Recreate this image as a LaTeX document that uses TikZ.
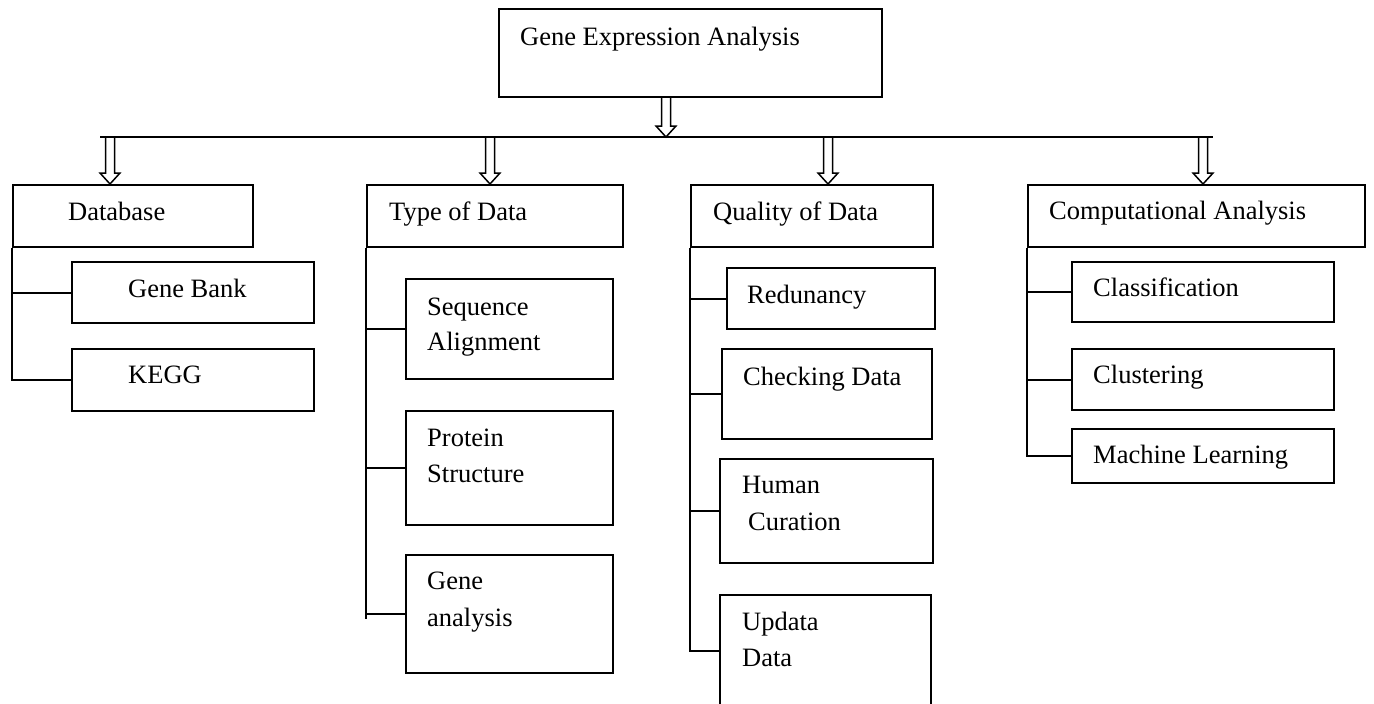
\documentclass[tikz,border=0pt]{standalone}
\usepackage{fontspec}
\setmainfont{Liberation Serif}
\usetikzlibrary{calc}
\tikzset{
  box/.style={draw, line width=2pt, rectangle, inner sep=0pt},
  txt/.style={font=\fontsize{26.5}{36}\selectfont, inner sep=0pt, anchor=base west},
  conn/.style={line width=2pt},
  harrow/.style={line width=1.5pt, line join=miter}
}
\newcommand\bx[5]{\node[box, minimum width={(#4)-(#2)}, minimum height={(#5)-(#3)}] (#1) at ({((#2)+(#4))/2},{((#3)+(#5))/2}) {};}
\newcommand\hollowarrow[2]{%
  \draw[harrow] ($(#1)+(-4.5,0)$) -- ($(#2)+(-4.5,-11)$) -- ($(#2)+(-10,-11)$) -- (#2)
    -- ($(#2)+(10,-11)$) -- ($(#2)+(4.5,-11)$) -- ($(#1)+(4.5,0)$);}
\begin{document}
\begin{tikzpicture}[x=1pt,y=-1pt]
\useasboundingbox (0,0) rectangle (1374,704);
\clip (0,0) rectangle (1374,704);
% boxes
\bx{top}{499}{9}{882}{97}
\bx{db}{13}{185}{253}{247}
\bx{gb}{72}{262}{314}{323}
\bx{kegg}{72}{349}{314}{411}
\bx{td}{367}{185}{623}{247}
\bx{sa}{406}{279}{613}{379}
\bx{ps}{406}{411}{613}{525}
\bx{ga}{406}{555}{613}{673}
\bx{qd}{691}{185}{933}{247}
\bx{red}{727}{268}{935}{329}
\bx{cd}{722}{349}{932}{439}
\bx{hc}{720}{459}{933}{563}
\bx{ud}{720}{595}{931}{707}
\bx{ca}{1028}{185}{1365}{247}
\bx{cls}{1072}{262}{1334}{322}
\bx{clu}{1072}{349}{1334}{410}
\bx{ml}{1072}{429}{1334}{483}
% texts
\node[txt] (ttop) at (520,45) {Gene Expression Analysis};
\node[txt] (tdb) at (68,220) {Database};
\node[txt] (tgb) at (128,297) {Gene Bank};
\node[txt] (tkegg) at (128,383) {KEGG};
\node[txt] (ttd) at (389,220) {Type of Data};
\node[txt] (tsa1) at (427,315) {Sequence};
\node[txt] (tsa2) at (427,350) {Alignment};
\node[txt] (tps1) at (427,446) {Protein};
\node[txt] (tps2) at (427,482) {Structure};
\node[txt] (tga1) at (427,589) {Gene};
\node[txt] (tga2) at (427,626) {analysis};
\node[txt] (tqd) at (713,220) {Quality of Data};
\node[txt] (tred) at (747,303) {Redunancy};
\node[txt] (tcd) at (743,385) {Checking Data};
\node[txt] (thc1) at (742,493) {Human};
\node[txt] (thc2) at (748,530) {Curation};
\node[txt] (tud1) at (742,630) {Updata};
\node[txt] (tud2) at (742,666) {Data};
\node[txt] (tca) at (1049,219) {Computational Analysis};
\node[txt] (tcls) at (1093,296) {Classification};
\node[txt] (tclu) at (1093,383) {Clustering};
\node[txt] (tml) at (1093,463) {Machine Learning};
% horizontal bus
\coordinate (hl) at (100,137);
\coordinate (hr) at (1213,137);
\draw[conn] (hl) -- (hr);
% arrows
\coordinate (t0) at ($(top.south west)+(168,0)$);
\coordinate (t1) at (t0 |- hl);
\hollowarrow{t0}{t1}
\coordinate (a1) at (110,137);
\coordinate (a2) at (490,137);
\coordinate (a3) at (828,137);
\coordinate (a4) at (1203,137);
\coordinate (b1) at (a1 |- db.north);
\coordinate (b2) at (a2 |- td.north);
\coordinate (b3) at (a3 |- qd.north);
\coordinate (b4) at (a4 |- ca.north);
\hollowarrow{a1}{b1}
\hollowarrow{a2}{b2}
\hollowarrow{a3}{b3}
\hollowarrow{a4}{b4}
% Database branches
\draw[conn] (db.south west) |- (kegg.west);
\draw[conn] (db.south west |- gb.west) -- (gb.west);
% Type of data branches
\draw[conn] (td.south west) -- ($(td.south west |- ga.west)+(0,5)$);
\draw[conn] (td.south west |- sa.west) -- (sa.west);
\draw[conn] (td.south west |- ps.west) -- (ps.west);
\draw[conn] (td.south west |- ga.west) -- (ga.west);
% Quality branches
\draw[conn] (qd.south west) |- (ud.west);
\draw[conn] (qd.south west |- red.west) -- (red.west);
\draw[conn] (qd.south west |- cd.west) -- (cd.west);
\draw[conn] (qd.south west |- hc.west) -- (hc.west);
% Computational branches
\draw[conn] (ca.south west) |- (ml.west);
\draw[conn] (ca.south west |- cls.west) -- (cls.west);
\draw[conn] (ca.south west |- clu.west) -- (clu.west);
\end{tikzpicture}
\end{document}
